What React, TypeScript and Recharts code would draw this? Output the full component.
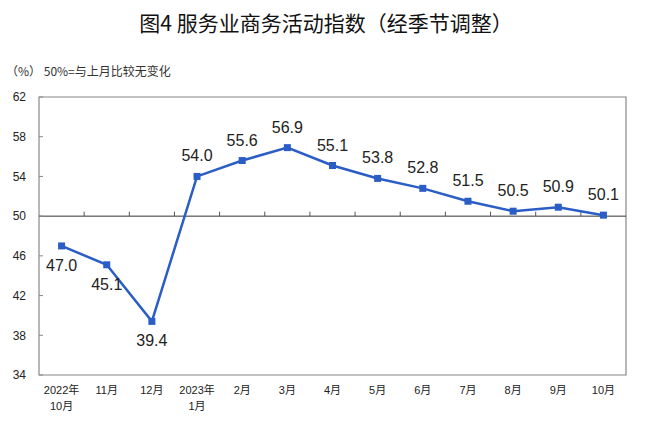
import { LineChart, Line, XAxis, YAxis, ReferenceLine, ReferenceArea, LabelList } from 'recharts';

const months = ['2022年\n10月', '11月', '12月', '2023年\n1月', '2月', '3月', '4月', '5月', '6月', '7月', '8月', '9月', '10月'];
const index = [47.0, 45.1, 39.4, 54.0, 55.6, 56.9, 55.1, 53.8, 52.8, 51.5, 50.5, 50.9, 50.1];
const yTicks = [34, 38, 42, 46, 50, 54, 58, 62];

const data = months.map((m, i) => ({ month: m, value: index[i] }));

const FONT = '"Liberation Sans", Arial, "Noto Sans CJK SC", sans-serif';

const MonthTick = (props: any) => {
  const { x, y, payload } = props;
  const lines = String(payload.value).split('\n');
  return (
    <text x={x} y={y} textAnchor="middle" fontSize={11} fill="#222" fontFamily={FONT}>
      {lines.map((l: string, i: number) => (
        <tspan key={i} x={x} dy={i === 0 ? 11 : 16}>{l}</tspan>
      ))}
    </text>
  );
};

// 低于50的标签放在点下方
const ValueLabel = (props: any) => {
  const { x, y, value } = props;
  const below = value < 50;
  return (
    <text x={x} y={below ? y + 25 : y - 15} textAnchor="middle" fontSize={16} fill="#222" fontFamily={FONT}>
      {Number(value).toFixed(1)}
    </text>
  );
};

const Marker = (props: any) => {
  const { cx, cy } = props;
  return <rect x={cx - 3.5} y={cy - 3.5} width={7} height={7} fill="#2A5DC6" />;
};

export default function App() {
  return (
    <div style={{ position: 'absolute', left: 0, top: 0, width: 652, height: 429, background: '#fff', fontFamily: FONT }}>
      <div style={{ position: 'absolute', left: 0, top: 7, width: 652, textAlign: 'center', fontSize: 21, color: '#111', fontFamily: '"Noto Sans CJK SC", sans-serif' }}>
        图4&nbsp;服务业商务活动指数（经季节调整）
      </div>
      <div style={{ position: 'absolute', left: 6, top: 62, fontSize: 12, color: '#333', fontFamily: '"Noto Sans CJK SC", sans-serif' }}>
        （%） 50%=与上月比较无变化
      </div>
      <LineChart width={652} height={429} data={data} margin={{ top: 97, right: 26, bottom: 14, left: 0 }}>
        <XAxis dataKey="month" scale="band" axisLine={false} tickLine={false} interval={0} height={40} tick={<MonthTick />} />
        <YAxis
          domain={[34, 62]}
          ticks={yTicks}
          width={39}
          axisLine={false}
          tickSize={-4}
          tickMargin={17}
          tickLine={{ stroke: '#888' }}
          tick={{ fontSize: 12, fill: '#222', fontFamily: FONT }}
        />
        <ReferenceArea y1={34} y2={62} fill="none" stroke="#888" strokeWidth={1.2} ifOverflow="visible" />
        <ReferenceLine y={50} stroke="#333" strokeWidth={1} />
        {months.slice(1).map((m) => (
          <ReferenceLine
            key={m}
            position="start"
            segment={[{ x: m, y: 50 }, { x: m, y: 50.45 }]}
            stroke="#555"
            strokeWidth={1}
          />
        ))}
        <Line
          type="linear"
          dataKey="value"
          stroke="#2A5DC6"
          strokeWidth={2.5}
          dot={<Marker />}
          activeDot={false}
          isAnimationActive={false}
        >
          <LabelList dataKey="value" content={<ValueLabel />} />
        </Line>
      </LineChart>
    </div>
  );
}
